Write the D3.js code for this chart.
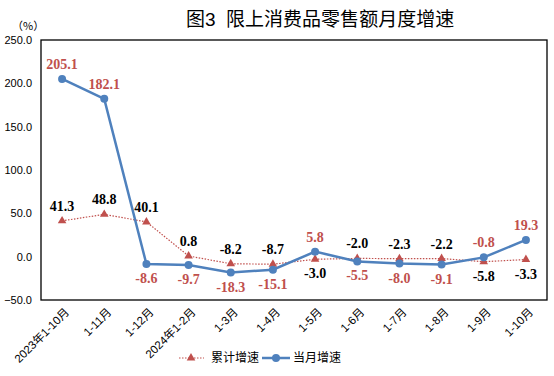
<!DOCTYPE html>
<html>
<head>
<meta charset="utf-8">
<script src="https://cdn.jsdelivr.net/npm/d3@7"></script>
<style>
  body { margin: 0; background: #fff; }
  svg { display: block; }
</style>
</head>
<body>
<div id="container"></div>
<script>
width = 554;
height = 376;

// data
categories = ["2023年1-10月", "1-11月", "1-12月", "2024年1-2月", "1-3月", "1-4月",
              "1-5月", "1-6月", "1-7月", "1-8月", "1-9月", "1-10月"];
cumulative = [41.3, 48.8, 40.1, 0.8, -8.2, -8.7, -3.0, -2.0, -2.3, -2.2, -5.8, -3.3];
monthly = [205.1, 182.1, -8.6, -9.7, -18.3, -15.1, 5.8, -5.5, -8.0, -9.1, -0.8, 19.3];
yTicks = [-50, 0, 50, 100, 150, 200, 250];

const red = "#C0504D";
const blue = "#4F81BD";
const cjk = "'Liberation Sans', 'Noto Sans CJK SC', sans-serif";
const num = "'Liberation Serif', 'DejaVu Serif', serif";

const plot = {left: 41, right: 547, top: 40, bottom: 300};

const x = d3.scalePoint()
    .domain(categories)
    .range([plot.left, plot.right])
    .padding(0.5);

const y = d3.scaleLinear()
    .domain([-50, 250])
    .range([plot.bottom, plot.top]);

const svg = d3.select("div#container")
    .append("svg")
    .attr("width", width)
    .attr("height", height);

// title
svg.append("text")
    .attr("x", 186)
    .attr("y", 26)
    .style("font", "19px " + cjk)
    .style("white-space", "pre")
    .attr("fill", "#000")
    .text("图3  限上消费品零售额月度增速");

// unit
svg.append("text")
    .attr("x", 12)
    .attr("y", 30)
    .style("font", "11px 'Noto Sans CJK SC', sans-serif")
    .text("（%）");

// y axis labels
const yAxis = d3.axisLeft(y)
    .tickValues(yTicks)
    .tickSize(0)
    .tickPadding(9)
    .tickFormat(d3.format(".1f"));

svg.append("g")
    .attr("transform", `translate(${plot.left},0)`)
    .call(yAxis)
    .call(g => g.select(".domain").remove())
    .call(g => g.selectAll("text")
        .style("font", "11px 'Liberation Sans', sans-serif")
        .attr("fill", "#000"));

// plot border
svg.append("rect")
    .attr("x", plot.left)
    .attr("y", plot.top)
    .attr("width", plot.right - plot.left)
    .attr("height", plot.bottom - plot.top)
    .attr("fill", "none")
    .attr("stroke", "#000")
    .attr("stroke-width", 1.3);

// x labels, rotated
svg.append("g")
    .selectAll("text")
    .data(categories)
    .join("text")
    .attr("transform", d => `translate(${x(d) + 5},${plot.bottom + 10}) rotate(-45)`)
    .attr("text-anchor", "end")
    .attr("dy", "0.35em")
    .style("font", "11.5px " + cjk)
    .attr("fill", "#000")
    .text(d => d);

const line = d3.line()
    .x((d, i) => x(categories[i]))
    .y(d => y(d));

// cumulative: dotted red line with triangles
svg.append("path")
    .datum(cumulative)
    .attr("d", line)
    .attr("fill", "none")
    .attr("stroke", red)
    .attr("stroke-width", 1.2)
    .attr("stroke-dasharray", "1.5,1.5");

const tri = d3.symbol().type(d3.symbolTriangle).size(32);

svg.append("g")
    .selectAll("path")
    .data(cumulative)
    .join("path")
    .attr("transform", (d, i) => `translate(${x(categories[i])},${y(d)})`)
    .attr("d", tri)
    .attr("fill", red);

// monthly: solid blue line with circles
svg.append("path")
    .datum(monthly)
    .attr("d", line)
    .attr("fill", "none")
    .attr("stroke", blue)
    .attr("stroke-width", 2.5);

svg.append("g")
    .selectAll("circle")
    .data(monthly)
    .join("circle")
    .attr("cx", (d, i) => x(categories[i]))
    .attr("cy", d => y(d))
    .attr("r", 4)
    .attr("fill", blue);

// value labels: the lower series of a close pair goes below its point
function labelY(v, other) {
    const below = other > v && other - v < 60;
    return below ? y(v) + 19 : y(v) - 10;
}

svg.append("g")
    .selectAll("text")
    .data(cumulative)
    .join("text")
    .attr("x", (d, i) => x(categories[i]))
    .attr("y", (d, i) => labelY(d, monthly[i]))
    .attr("text-anchor", "middle")
    .style("font", "bold 14px " + num)
    .attr("fill", "#000")
    .text(d => d.toFixed(1));

svg.append("g")
    .selectAll("text")
    .data(monthly)
    .join("text")
    .attr("x", (d, i) => x(categories[i]))
    .attr("y", (d, i) => labelY(d, cumulative[i]))
    .attr("text-anchor", "middle")
    .style("font", "bold 14px " + num)
    .attr("fill", red)
    .text(d => d.toFixed(1));

// legend
const legend = svg.append("g").attr("transform", "translate(0,358)");

legend.append("line")
    .attr("x1", 179).attr("x2", 204)
    .attr("stroke", red)
    .attr("stroke-width", 1.2)
    .attr("stroke-dasharray", "1.5,1.5");
legend.append("path")
    .attr("transform", "translate(191,0)")
    .attr("d", tri)
    .attr("fill", red);
legend.append("text")
    .attr("x", 211).attr("dy", "0.35em")
    .style("font", "12px " + cjk)
    .text("累计增速");

legend.append("line")
    .attr("x1", 262).attr("x2", 290)
    .attr("stroke", blue)
    .attr("stroke-width", 2.5);
legend.append("circle")
    .attr("cx", 276).attr("r", 4)
    .attr("fill", blue);
legend.append("text")
    .attr("x", 293).attr("dy", "0.35em")
    .style("font", "12px " + cjk)
    .text("当月增速");
</script>
</body>
</html>
